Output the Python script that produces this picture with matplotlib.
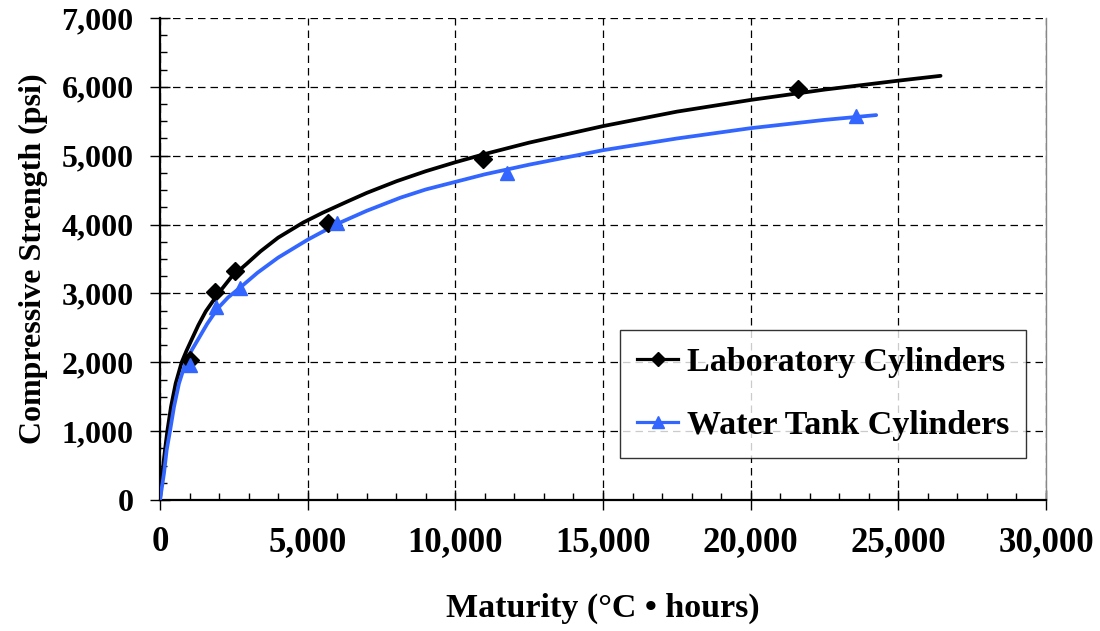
import matplotlib
matplotlib.use("Agg")
import matplotlib.pyplot as plt
from matplotlib.ticker import MultipleLocator, FuncFormatter

# ---- data ----
lab_x = [1000, 1850, 2550, 5700, 10950, 21600]
lab_y = [2030, 3020, 3330, 4030, 4950, 5975]
tank_x = [1020, 1900, 2700, 6000, 11750, 23560]
tank_y = [1960, 2800, 3080, 4020, 4750, 5575]

lab_fit_x = [0, 79, 169, 248, 372, 530, 734, 900, 1072, 1300, 1550, 1975, 2400, 2934,
             3400, 4000, 4850, 5500, 6319, 7000, 8012, 9000, 10000, 11000, 12500,
             15000, 17500, 20000, 22500, 25000, 26430]
lab_fit_y = [0, 387, 726, 1000, 1353, 1693, 2000, 2170, 2330, 2540, 2740, 3000, 3230, 3430,
             3610, 3810, 4030, 4170, 4330, 4460, 4630, 4775, 4905, 5025, 5190,
             5430, 5640, 5810, 5960, 6090, 6160]
tank_fit_x = [0, 135, 226, 338, 474, 643, 870, 1080, 1300, 1600, 1950, 2300, 2700, 3300,
              4000, 5000, 6000, 7000, 8137, 9000, 10000, 11000, 12500, 15000, 17500,
              20000, 22500, 24250]
tank_fit_y = [0, 387, 726, 1000, 1353, 1693, 2000, 2180, 2340, 2560, 2780, 2940, 3080, 3300,
              3520, 3780, 4010, 4200, 4390, 4510, 4620, 4730, 4870, 5080, 5250,
              5400, 5520, 5590]

lab_label = "Laboratory Cylinders"
tank_label = "Water Tank Cylinders"
xlabel = "Maturity (°C • hours)"
ylabel = "Compressive Strength (psi)"

BLUE = "#3366ff"

plt.rcParams['font.family'] = ['Liberation Serif', 'DejaVu Serif']
plt.rcParams['font.weight'] = 'bold'

fig = plt.figure(figsize=(11, 6.31), dpi=100)
ax = fig.add_axes([160/1100, 1-500/631, (1046-160)/1100, (500-18)/631])

# fitted curves
ax.plot(lab_fit_x, lab_fit_y, color='black', lw=2.7, solid_capstyle='round',
        solid_joinstyle='round', zorder=3)
ax.plot(tank_fit_x, tank_fit_y, color=BLUE, lw=2.7, solid_capstyle='round',
        solid_joinstyle='round', zorder=3)
# data markers
ax.plot(lab_x, lab_y, linestyle='none', marker='D', ms=9, color='black', zorder=4)
ax.plot(tank_x, tank_y, linestyle='none', marker='^', ms=10, color=BLUE, zorder=4)

# legend proxies
h1, = ax.plot([], [], color='black', lw=2.3, marker='D', ms=7)
h2, = ax.plot([], [], color=BLUE, lw=2.3, marker='^', ms=9)

ax.set_xlim(0, 30000)
ax.set_ylim(0, 7000)
ax.xaxis.set_major_locator(MultipleLocator(5000))
ax.xaxis.set_minor_locator(MultipleLocator(1000))
ax.yaxis.set_major_locator(MultipleLocator(1000))
ax.yaxis.set_minor_locator(MultipleLocator(250))
fmt = FuncFormatter(lambda v, p: f"{int(v):,}")
ax.xaxis.set_major_formatter(fmt)
ax.yaxis.set_major_formatter(fmt)

ax.grid(True, which='major', color='black', lw=0.9, linestyle=(0, (6, 4)))
ax.set_axisbelow(True)

ax.spines['top'].set_visible(False)
ax.spines['right'].set_color('#888888')
ax.spines['right'].set_linewidth(1.0)
ax.spines['left'].set_linewidth(1.6)
ax.spines['bottom'].set_linewidth(1.6)

ax.tick_params(axis='both', which='major', direction='inout', length=14, width=1.0)
ax.tick_params(axis='both', which='minor', direction='in', length=5, width=1.0)
ax.tick_params(axis='x', which='major', pad=12, labelsize=25)
ax.tick_params(axis='y', which='major', pad=12, labelsize=23)
ax.tick_params(axis='both', which='both', right=False, top=False)

ax.set_xlabel(xlabel, fontsize=24.5, fontweight='bold', labelpad=24)
ax.set_ylabel(ylabel, fontsize=23, fontweight='bold', labelpad=10)

leg = ax.legend([h1, h2], [lab_label, tank_label], loc='lower right',
                bbox_to_anchor=((1026-160)/886, (500-458)/482), borderaxespad=0,
                fontsize=24.5, frameon=True, fancybox=False, edgecolor='black',
                handlelength=1.2, handletextpad=0.25, labelspacing=0.95,
                borderpad=0.5)
leg.get_frame().set_linewidth(1.0)
for t in leg.get_texts():
    t.set_fontweight('bold')

fig.savefig("out.png", dpi=100)
